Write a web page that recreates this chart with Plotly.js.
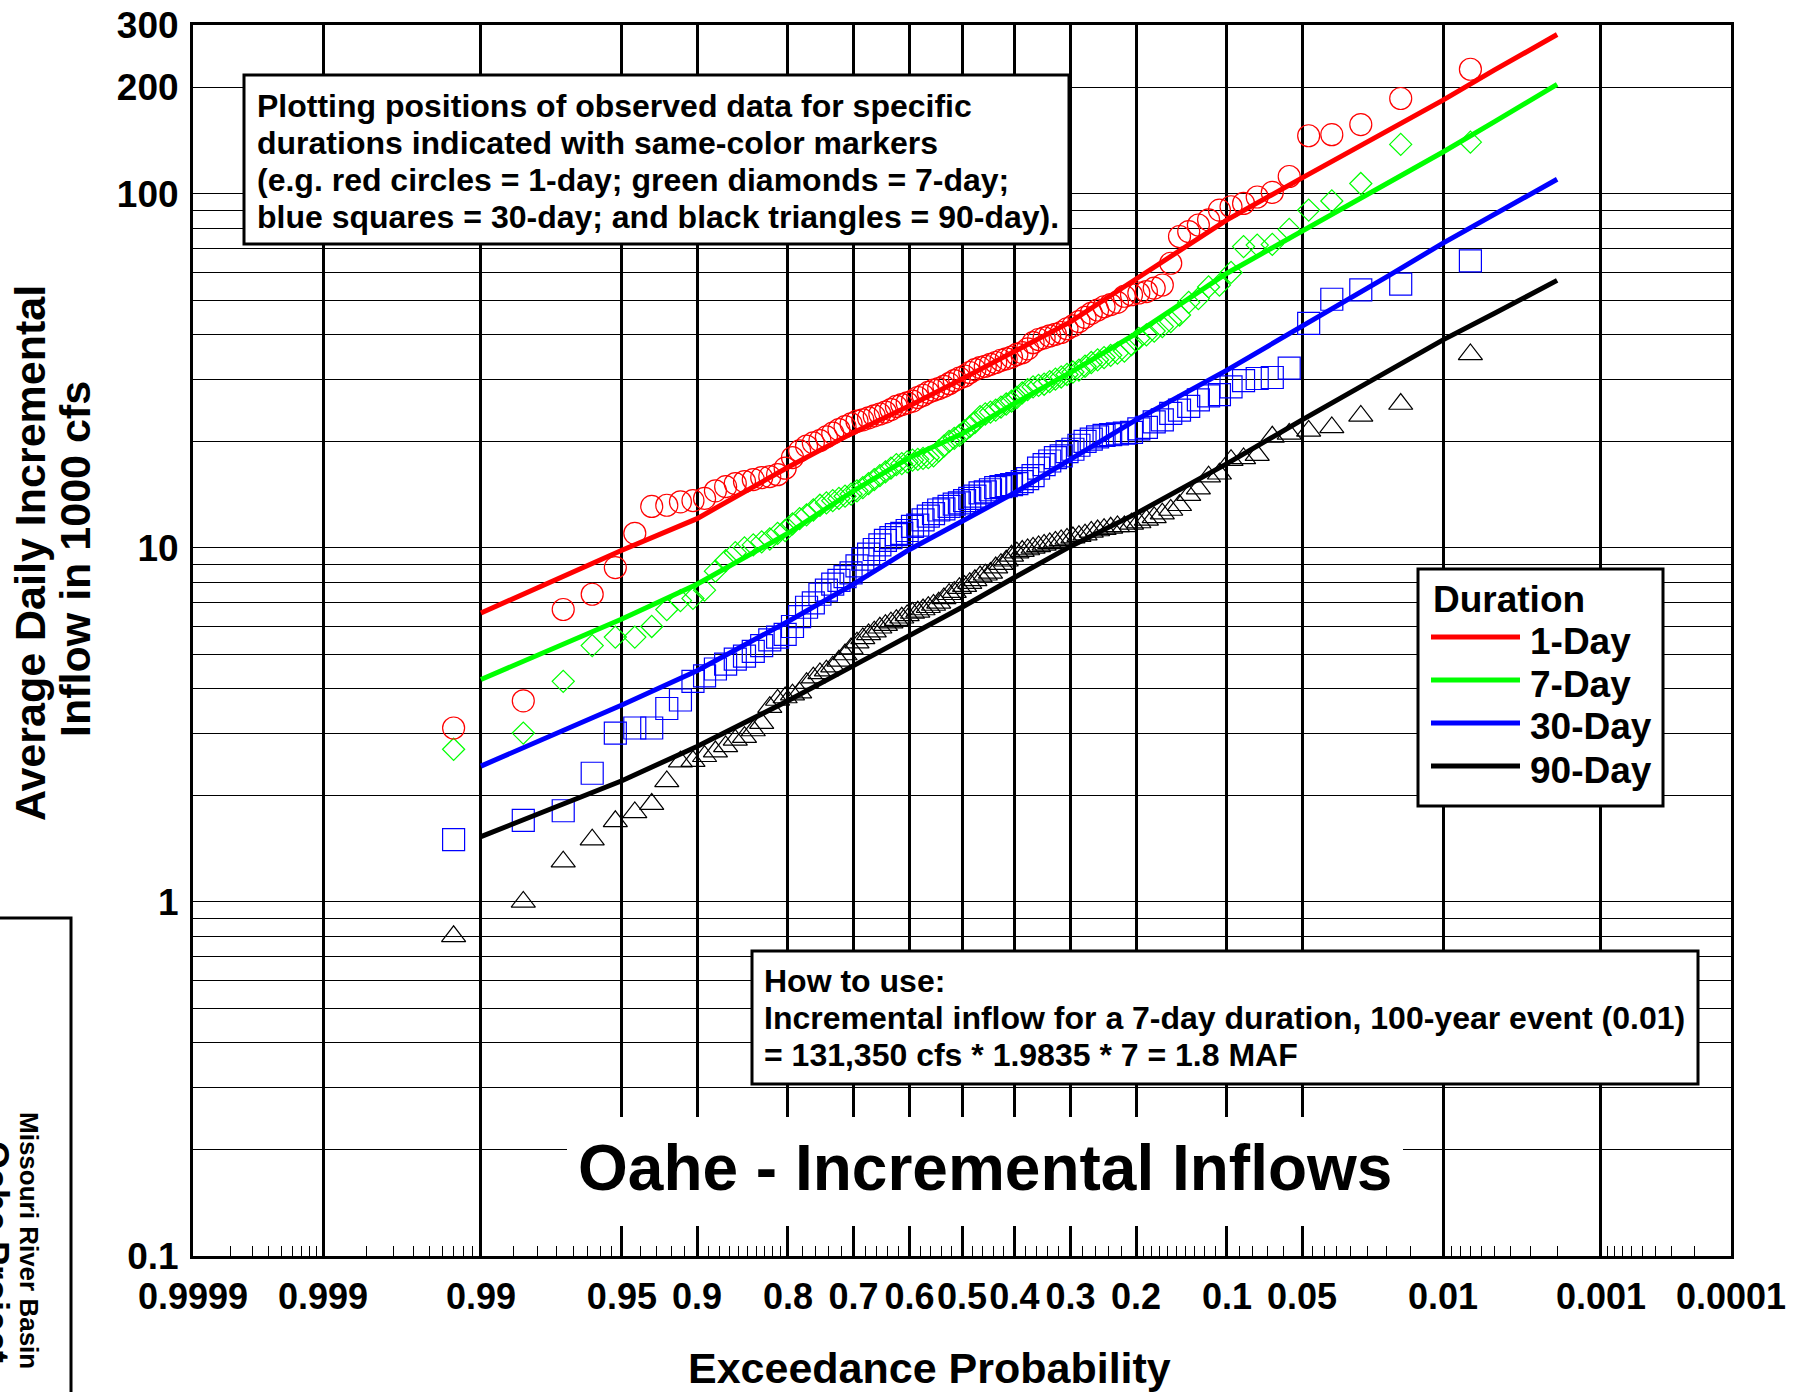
<!DOCTYPE html>
<html>
<head>
<meta charset="utf-8">
<script src="https://cdn.plot.ly/plotly-3.0.1.min.js"></script>
<style>
  html, body { margin: 0; padding: 0; background: #ffffff; }
  #chart { width: 1806px; height: 1392px; }
</style>
</head>
<body>
<div id="chart"></div>
<script>
// ---------------------------------------------------------------------------
// Frequency curves, tabulated at these exceedance probabilities
// (average daily incremental inflow, 1000 cfs)
// ---------------------------------------------------------------------------
const curveProb  = [0.99, 0.95, 0.9, 0.8, 0.7, 0.6, 0.5, 0.4, 0.3, 0.2, 0.1, 0.05, 0.02, 0.01, 0.005, 0.002];
const curve1Day  = [6.55, 9.85, 12.1, 16.9, 21.2, 25.2, 30.0, 36.0, 43.5, 57.5, 84.5, 111, 150, 184, 224, 282];
const curve7Day  = [4.25, 6.3, 7.9, 11.0, 14.5, 18.0, 21.0, 25.6, 31.3, 40.3, 59.7, 78.3, 107, 131.35, 160, 204];
const curve30Day = [2.42, 3.6, 4.5, 6.2, 7.9, 9.9, 11.9, 14.3, 17.8, 23.0, 31.8, 42.2, 58.3, 72.6, 87.6, 110];
const curve90Day = [1.53, 2.2, 2.75, 3.7, 4.65, 5.65, 6.8, 8.25, 10.1, 12.5, 17.3, 23.0, 31.4, 38.7, 46.0, 57];

// ---------------------------------------------------------------------------
// Observed annual maxima for each duration, ranked largest to smallest
// ---------------------------------------------------------------------------
const obs1Day = [
  225, 186, 157, 147, 146, 112, 101, 98, 94, 92,
  90, 84.5, 81.7, 78.3, 75.8, 63.7, 55.3, 54.2, 53.0, 52.5,
  51.9, 51.4, 49.4, 48.7, 48.0, 47.0, 46.0, 44.8, 43.6, 42.4,
  41.6, 40.6, 40.1, 39.7, 39.2, 38.8, 38.0, 36.5, 35.6, 35.2,
  34.6, 34.2, 33.9, 33.4, 33.0, 32.6, 32.3, 31.9, 31.3, 30.6,
  30.2, 29.7, 29.1, 28.6, 28.2, 27.9, 27.5, 27.0, 26.6, 26.0,
  25.7, 25.4, 25.1, 24.6, 24.2, 23.9, 23.6, 23.3, 23.0, 22.8,
  22.4, 22.0, 21.6, 21.1, 20.6, 20.1, 19.8, 19.4, 18.8, 18.0,
  16.8, 16.1, 15.9, 15.8, 15.6, 15.4, 15.2, 14.9, 14.5, 13.8,
  13.6, 13.5, 13.2, 13.1, 11.0, 8.8, 7.4, 6.7, 3.7, 3.1
];
const obs7Day = [
  140, 138, 107, 95.5, 90, 79.4, 72, 71.7, 71, 60,
  55.3, 54.6, 50.6, 49.4, 45.5, 43.6, 42.2, 41.0, 40.0, 39.1,
  37.5, 36.0, 35.5, 35.0, 34.5, 34.0, 33.4, 32.6, 31.8, 31.4,
  30.9, 30.4, 30.0, 29.5, 29.0, 28.8, 28.5, 28.0, 27.4, 26.6,
  26.0, 25.5, 25.0, 24.5, 24.2, 23.9, 23.5, 22.6, 22.0, 21.4,
  20.8, 20.4, 20.0, 19.4, 18.8, 18.2, 18.0, 17.9, 17.8, 17.7,
  17.5, 17.3, 17.2, 16.8, 16.4, 16.0, 15.6, 15.2, 14.8, 14.5,
  14.2, 14.0, 13.8, 13.6, 13.4, 13.2, 12.8, 12.4, 12.1, 11.7,
  11.2, 11.0, 10.6, 10.4, 10.2, 10.0, 9.7, 9.2, 8.6, 7.6,
  7.2, 7.1, 6.7, 6.0, 5.6, 5.6, 5.3, 4.2, 3.0, 2.7
];
const obs30Day = [
  64.7, 55.6, 53.6, 50.4, 43.1, 32.2, 30.3, 30.1, 29.7, 28.5,
  27.1, 26.9, 26.2, 25.1, 24.5, 24.0, 23.0, 22.7, 21.9, 21.7,
  21.2, 21.1, 21.0, 20.9, 20.8, 20.6, 20.3, 20.0, 19.5, 19.0,
  18.7, 18.2, 18.0, 17.6, 17.2, 16.8, 16.0, 15.7, 15.4, 15.2,
  15.1, 15.0, 14.9, 14.8, 14.6, 14.4, 14.3, 14.0, 13.8, 13.6,
  13.4, 13.3, 13.1, 12.9, 12.8, 12.5, 12.3, 12.0, 11.6, 11.5,
  11.2, 11.0, 10.9, 10.7, 10.5, 10.2, 9.9, 9.6, 9.3, 8.9,
  8.5, 8.3, 8.1, 7.9, 7.6, 7.4, 7.0, 6.8, 6.4, 6.0,
  5.7, 5.6, 5.5, 5.3, 5.1, 4.95, 4.85, 4.7, 4.55, 4.35,
  4.2, 3.72, 3.52, 3.10, 3.10, 3.0, 2.31, 1.81, 1.70, 1.50
];
const obs90Day = [
  35.2, 25.5, 23.6, 21.9, 21.4, 21.0, 20.6, 18.3, 17.9, 17.7,
  16.2, 15.9, 14.7, 14.1, 13.2, 12.8, 12.5, 12.2, 12.0, 11.8,
  11.7, 11.5, 11.5, 11.4, 11.3, 11.2, 11.1, 10.9, 10.8, 10.7,
  10.6, 10.5, 10.4, 10.3, 10.2, 10.1, 10.0, 9.9, 9.8, 9.7,
  9.5, 9.2, 9.0, 8.8, 8.5, 8.4, 8.3, 8.1, 7.95, 7.8,
  7.7, 7.5, 7.4, 7.2, 7.0, 6.9, 6.8, 6.7, 6.6, 6.55,
  6.45, 6.35, 6.25, 6.15, 6.05, 5.95, 5.8, 5.7, 5.55, 5.4,
  5.2, 5.0, 4.8, 4.62, 4.5, 4.42, 4.3, 4.15, 3.9, 3.85,
  3.78, 3.72, 3.55, 3.2, 3.05, 2.92, 2.87, 2.75, 2.66, 2.58,
  2.5, 2.49, 2.19, 1.89, 1.79, 1.69, 1.5, 1.3, 1.0, 0.8
];

// ---------------------------------------------------------------------------
// Axis ticks
// ---------------------------------------------------------------------------
const xTickProb   = [0.9999, 0.999, 0.99, 0.95, 0.9, 0.8, 0.7, 0.6, 0.5, 0.4, 0.3, 0.2, 0.1, 0.05, 0.01, 0.001, 0.0001];
const xTickLabels = ['0.9999', '0.999', '0.99', '0.95', '0.9', '0.8', '0.7', '0.6', '0.5', '0.4', '0.3', '0.2', '0.1', '0.05', '0.01', '0.001', '0.0001'];
const xMinorProb = [
  0.9998, 0.9997, 0.9996, 0.9995, 0.9994, 0.9993, 0.9992, 0.9991,
  0.998, 0.997, 0.996, 0.995, 0.994, 0.993, 0.992, 0.991,
  0.985, 0.98, 0.975, 0.97, 0.965, 0.96, 0.955,
  0.94, 0.93, 0.92, 0.91,
  0.89, 0.88, 0.87, 0.86, 0.85, 0.84, 0.83, 0.82, 0.81,
  0.78, 0.76, 0.74, 0.72,
  0.68, 0.66, 0.64, 0.62,
  0.58, 0.56, 0.54, 0.52,
  0.48, 0.46, 0.44, 0.42,
  0.38, 0.36, 0.34, 0.32,
  0.28, 0.26, 0.24, 0.22,
  0.19, 0.18, 0.17, 0.16, 0.15, 0.14, 0.13, 0.12, 0.11,
  0.09, 0.08, 0.07, 0.06,
  0.045, 0.04, 0.035, 0.03, 0.025, 0.02, 0.015,
  0.009, 0.008, 0.007, 0.006, 0.005, 0.004, 0.003, 0.002,
  0.0009, 0.0008, 0.0007, 0.0006, 0.0005, 0.0004, 0.0003, 0.0002
];
const yTickVals  = [0.1, 1, 10, 100, 200, 300];
const yTickText  = ['0.1', '1', '10', '100', '200', '300'];
const yMinorVals = [0.2, 0.3, 0.4, 0.5, 0.6, 0.7, 0.8, 0.9, 2, 3, 4, 5, 6, 7, 8, 9, 20, 30, 40, 50, 60, 70, 80, 90];

// Standard normal quantile (Acklam's rational approximation)
function normInv(p) {
  const a = [-3.969683028665376e+01, 2.209460984245205e+02, -2.759285104469687e+02,
             1.383577518672690e+02, -3.066479806614716e+01, 2.506628277459239e+00];
  const b = [-5.447609879822406e+01, 1.615858368580409e+02, -1.556989798598866e+02,
             6.680131188771972e+01, -1.328068155288572e+01];
  const c = [-7.784894002430293e-03, -3.223964580411365e-01, -2.400758277161838e+00,
             -2.549732539343734e+00, 4.374664141464968e+00, 2.938163982698783e+00];
  const d = [7.784695709041462e-03, 3.224671290700398e-01, 2.445134137142996e+00,
             3.754408661907416e+00];
  const pl = 0.02425, ph = 1 - pl;
  let q, r;
  if (p < pl) {
    q = Math.sqrt(-2 * Math.log(p));
    return (((((c[0]*q + c[1])*q + c[2])*q + c[3])*q + c[4])*q + c[5]) /
           ((((d[0]*q + d[1])*q + d[2])*q + d[3])*q + 1);
  }
  if (p > ph) {
    q = Math.sqrt(-2 * Math.log(1 - p));
    return -(((((c[0]*q + c[1])*q + c[2])*q + c[3])*q + c[4])*q + c[5]) /
            ((((d[0]*q + d[1])*q + d[2])*q + d[3])*q + 1);
  }
  q = p - 0.5; r = q * q;
  return (((((a[0]*r + a[1])*r + a[2])*r + a[3])*r + a[4])*r + a[5]) * q /
         (((((b[0]*r + b[1])*r + b[2])*r + b[3])*r + b[4])*r + 1);
}
// Normal-probability scale: exceedance probability -> standard normal deviate
const zOf = e => normInv(1 - e);

// Median plotting position of each ranked observation
const nYears = obs1Day.length;
const obsExceed = obs1Day.map((_, i) => (i + 1 - 0.3) / (nYears + 0.4));
const xObs = obsExceed.map(zOf);
const xCurve = curveProb.map(zOf);

// ---------------------------------------------------------------------------
// Page geometry (pixels) and helpers to place boxes and labels
// ---------------------------------------------------------------------------
const W = 1806, H = 1392;
const plotL = 193, plotR = 1731, plotT = 25, plotB = 1256;
const px = x => (x - plotL) / (plotR - plotL);
const py = y => (plotB - y) / (plotB - plotT);

const FONT = 'Liberation Sans, Arial, Helvetica, sans-serif';
const bold = (size) => ({ family: FONT, size: size, color: '#000000', weight: 'bold' });

const RED = '#ff0000', GREEN = '#00ff00', BLUE = '#0000ff', BLACK = '#000000';

function obsTrace(y, symbol, size, color) {
  return {
    x: xObs, y: y, type: 'scatter', mode: 'markers', showlegend: false,
    marker: { symbol: symbol, size: size, color: color, line: { color: color, width: 1.2 } },
    hoverinfo: 'skip'
  };
}
function curveTrace(y, color, name) {
  return {
    x: xCurve, y: y, type: 'scatter', mode: 'lines', name: name, showlegend: false,
    line: { color: color, width: 5 }, hoverinfo: 'skip'
  };
}

const data = [
  obsTrace(obs90Day, 'triangle-up-open', 21, BLACK),
  obsTrace(obs30Day, 'square-open', 22, BLUE),
  obsTrace(obs7Day, 'diamond-open', 17, GREEN),
  obsTrace(obs1Day, 'circle-open', 22, RED),
  curveTrace(curve90Day, BLACK, '90-Day'),
  curveTrace(curve30Day, BLUE, '30-Day'),
  curveTrace(curve7Day, GREEN, '7-Day'),
  curveTrace(curve1Day, RED, '1-Day')
];

// Boxes, legend samples and the basin tag
const rectPx = (x0, y0, x1, y1, fill, lw) => ({
  type: 'rect', xref: 'paper', yref: 'paper', layer: 'above',
  x0: px(x0), x1: px(x1), y0: py(y1), y1: py(y0),
  fillcolor: fill, line: { color: '#000000', width: lw }
});
const legendItems = [
  { label: '1-Day',  color: RED,   y: 637 },
  { label: '7-Day',  color: GREEN, y: 680 },
  { label: '30-Day', color: BLUE,  y: 723 },
  { label: '90-Day', color: BLACK, y: 766 }
];

const shapes = [
  rectPx(244, 75, 1069, 244, '#ffffff', 3),
  rectPx(752, 951, 1698, 1084, '#ffffff', 3),
  rectPx(1418, 569, 1663, 806, '#ffffff', 3),
  rectPx(567, 1117, 1403, 1226, '#ffffff', 0),
  rectPx(-30, 918, 71, 1430, 'rgba(0,0,0,0)', 3)
];
legendItems.forEach(it => {
  shapes.push({
    type: 'line', xref: 'paper', yref: 'paper', layer: 'above',
    x0: px(1431), x1: px(1520), y0: py(it.y), y1: py(it.y),
    line: { color: it.color, width: 5 }
  });
});

const textAt = (text, x, y, size, opts) => Object.assign({
  text: text, xref: 'paper', yref: 'paper', x: px(x), y: py(y),
  xanchor: 'left', yanchor: 'middle', showarrow: false, font: bold(size)
}, opts || {});

const noteLines = [
  'Plotting positions of observed data for specific',
  'durations indicated with same-color markers',
  '(e.g. red circles = 1-day; green diamonds = 7-day;',
  'blue squares = 30-day; and black triangles = 90-day).'
];
const useLines = [
  'How to use:',
  'Incremental inflow for a 7-day duration, 100-year event (0.01)',
  '= 131,350 cfs * 1.9835 * 7 = 1.8 MAF'
];

const annotations = [];
noteLines.forEach((t, i) => annotations.push(textAt(t, 255, 106 + i * 37, 32)));
useLines.forEach((t, i) => annotations.push(textAt(t, 762, 981 + i * 37, 32)));
annotations.push(textAt('Duration', 1431, 599, 37));
legendItems.forEach(it => annotations.push(textAt(it.label, 1528, it.y + 4, 37)));
annotations.push(textAt('Oahe - Incremental Inflows', 985, 1168, 64, { xanchor: 'center' }));
annotations.push(textAt('Exceedance Probability', 929, 1368, 43, { xanchor: 'center' }));
annotations.push(textAt('Average Daily Incremental', 30, 553, 43, { xanchor: 'center', textangle: -90 }));
annotations.push(textAt('Inflow in 1000 cfs', 75, 559, 43, { xanchor: 'center', textangle: -90 }));
annotations.push(textAt('Missouri River Basin', 29, 1240, 26, { xanchor: 'center', textangle: 90 }));
annotations.push(textAt('Oahe Project', -4, 1252, 36, { xanchor: 'center', textangle: 90 }));

const layout = {
  width: W, height: H,
  margin: { l: plotL, r: W - plotR, t: plotT, b: H - plotB, pad: 0 },
  paper_bgcolor: '#ffffff', plot_bgcolor: '#ffffff',
  showlegend: false,
  font: { family: FONT, color: '#000000' },
  xaxis: {
    range: [zOf(0.9999), zOf(0.0001)],
    tickmode: 'array', tickvals: xTickProb.map(zOf), ticktext: xTickLabels,
    tickangle: 0, ticks: '', ticklabelstandoff: 7,
    tickfont: bold(36),
    showgrid: true, gridcolor: '#000000', gridwidth: 3,
    zeroline: false, showline: true, linecolor: '#000000', linewidth: 3, mirror: true,
    minor: {
      tickmode: 'array', tickvals: xMinorProb.map(zOf),
      ticks: 'inside', ticklen: 10, tickwidth: 1, tickcolor: '#000000', showgrid: false
    }
  },
  yaxis: {
    type: 'log', range: [-1, Math.log10(300)],
    tickmode: 'array', tickvals: yTickVals, ticktext: yTickText,
    ticks: '', ticklabelstandoff: 4,
    tickfont: bold(37),
    showgrid: true, gridcolor: '#000000', gridwidth: 1,
    zeroline: false, showline: true, linecolor: '#000000', linewidth: 3, mirror: true,
    minor: {
      tickmode: 'array', tickvals: yMinorVals,
      ticks: '', showgrid: true, gridcolor: '#000000', gridwidth: 1
    }
  },
  shapes: shapes,
  annotations: annotations
};

Plotly.newPlot('chart', data, layout, { staticPlot: true, displayModeBar: false });
</script>
</body>
</html>
